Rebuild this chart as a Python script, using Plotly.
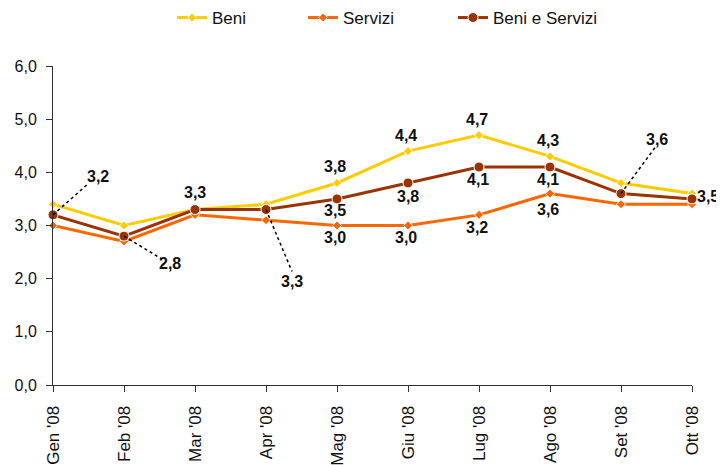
import plotly.graph_objects as go

months = ["Gen '08", "Feb '08", "Mar '08", "Apr '08", "Mag '08", "Giu '08",
          "Lug '08", "Ago '08", "Set '08", "Ott '08"]
beni = [3.4, 3.0, 3.3, 3.4, 3.8, 4.4, 4.7, 4.3, 3.8, 3.6]
servizi = [3.0, 2.7, 3.2, 3.1, 3.0, 3.0, 3.2, 3.6, 3.4, 3.4]
beni_servizi = [3.2, 2.8, 3.3, 3.3, 3.5, 3.8, 4.1, 4.1, 3.6, 3.5]
y_ticks = [0, 1, 2, 3, 4, 5, 6]

C_BENI = "#FFCC00"
C_SERV = "#FF6600"
C_BS = "#993300"
FONT = "Liberation Sans, Arial, sans-serif"
W, H = 716, 457  # page body has an 8px margin

def fmt(v):
    return f"{v:.1f}".replace(".", ",")

fig = go.Figure()
fig.add_trace(go.Scatter(x=months, y=beni, name="Beni", mode="lines+markers",
                         legend="legend",
                         line=dict(color=C_BENI, width=3),
                         marker=dict(symbol="diamond", size=7, color=C_BENI,
                                     line=dict(color="white", width=1)),
                         cliponaxis=False))
fig.add_trace(go.Scatter(x=months, y=servizi, name="Servizi", mode="lines+markers",
                         legend="legend2",
                         line=dict(color=C_SERV, width=3),
                         marker=dict(symbol="diamond", size=7, color=C_SERV,
                                     line=dict(color="white", width=1)),
                         cliponaxis=False))
fig.add_trace(go.Scatter(x=months, y=beni_servizi, name="Beni e Servizi", mode="lines+markers",
                         legend="legend3",
                         line=dict(color=C_BS, width=3),
                         marker=dict(symbol="circle", size=10, color=C_BS,
                                     line=dict(color="white", width=1)),
                         cliponaxis=False))

lab_font = dict(family=FONT, size=16, color="#111111")
annotations = []
def add_label(i, series, xs, ys):
    annotations.append(dict(x=months[i], y=series[i], xref="x", yref="y",
                            text="<b>" + fmt(series[i]) + "</b>", showarrow=False,
                            xshift=xs, yshift=ys, font=lab_font))

# Beni labels (above)
for i in range(4, 8):
    add_label(i, beni, -2, 16)
# Servizi labels (below)
serv_shift = {4: -12, 5: -12, 6: -13, 7: -16}
for i, ys in serv_shift.items():
    add_label(i, servizi, -2, ys)

# Beni e Servizi labels
bs_offsets = {0: (45, 38), 1: (46, -27), 2: (0, 17), 3: (26, -72),
              4: (-2, -12), 5: (0, -14), 6: (-1, -12), 7: (-2, -12),
              8: (36, 54), 9: (16, 2)}
for i, (xs, ys) in bs_offsets.items():
    add_label(i, beni_servizi, xs, ys)

# dotted leader lines (pixel offsets from the data point)
leaders = {0: (35, 31), 1: (38, -23), 3: (26, -62), 8: (34, 46)}
shapes = []
for i, (dx, dy) in leaders.items():
    shapes.append(dict(type="line", xref="x", yref="y",
                       xsizemode="pixel", ysizemode="pixel",
                       xanchor=i, yanchor=beni_servizi[i],
                       x0=0, y0=0, x1=dx, y1=dy,
                       line=dict(color="black", width=1.5, dash="dot")))

leg_font = dict(family=FONT, size=17, color="#111111")
def leg(xpx):
    return dict(orientation="h", xref="container", yref="container",
                x=xpx / W, y=1 - 10 / H, xanchor="left", yanchor="middle",
                font=leg_font, bgcolor="rgba(0,0,0,0)")

fig.update_layout(
    width=W, height=H,
    margin=dict(l=45, r=32, t=58, b=80),
    paper_bgcolor="white", plot_bgcolor="white",
    separators=",.",
    font=dict(family=FONT, size=16, color="#111111"),
    showlegend=True,
    legend=leg(164), legend2=leg(295), legend3=leg(445),
    annotations=annotations,
    shapes=shapes,
)
fig.update_xaxes(type="category", range=[0, 9], showline=True, linecolor="#333333",
                 linewidth=1, ticks="outside", ticklen=6, tickcolor="#333333",
                 tickangle=-90, showgrid=False, zeroline=False, ticklabelstandoff=7,
                 automargin=False,
                 tickfont=dict(family=FONT, size=17, color="#111111"))
fig.update_yaxes(range=[0, 6], tickvals=y_ticks, tickformat=".1f", showline=True,
                 linecolor="#333333", linewidth=1, ticks="outside", ticklen=6,
                 tickcolor="#333333", showgrid=False, zeroline=False, ticklabelstandoff=6,
                 automargin=False,
                 tickfont=dict(family=FONT, size=16, color="#111111"))

fig.write_html("out.html")
